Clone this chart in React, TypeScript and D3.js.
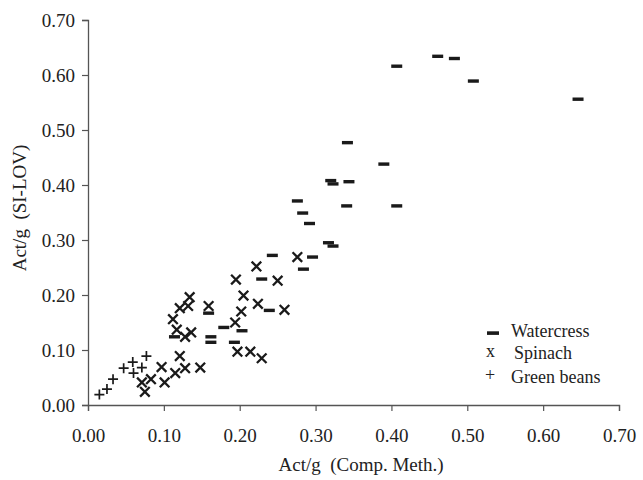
import React, { useEffect, useRef } from 'react';
import * as d3 from 'd3';

const WIDTH = 643;
const HEIGHT = 480;

const xTicks = [0, 0.1, 0.2, 0.3, 0.4, 0.5, 0.6, 0.7];
const yTicks = [0, 0.1, 0.2, 0.3, 0.4, 0.5, 0.6, 0.7];

const xTitle = 'Act/g  (Comp. Meth.)';
const yTitle = 'Act/g  (SI-LOV)';

// [comp. meth., SI-LOV]
const watercress: [number, number][] = [
  [0.461, 0.634], [0.483, 0.630], [0.407, 0.616], [0.508, 0.589], [0.646, 0.556],
  [0.342, 0.477], [0.390, 0.438], [0.320, 0.408], [0.323, 0.402], [0.344, 0.406],
  [0.341, 0.362], [0.407, 0.362], [0.276, 0.371], [0.283, 0.349], [0.292, 0.330],
  [0.317, 0.295], [0.323, 0.289], [0.243, 0.272], [0.296, 0.269], [0.284, 0.247],
  [0.229, 0.229], [0.239, 0.172], [0.159, 0.167], [0.179, 0.141], [0.203, 0.135],
  [0.162, 0.124], [0.162, 0.114], [0.193, 0.114], [0.114, 0.124]
];

const spinach: [number, number][] = [
  [0.276, 0.269], [0.222, 0.252], [0.195, 0.228], [0.250, 0.226], [0.205, 0.199],
  [0.134, 0.196], [0.132, 0.180], [0.121, 0.176], [0.159, 0.180], [0.202, 0.170],
  [0.224, 0.184], [0.259, 0.173], [0.112, 0.156], [0.194, 0.150], [0.128, 0.124],
  [0.136, 0.132], [0.117, 0.137], [0.197, 0.097], [0.214, 0.097], [0.229, 0.085],
  [0.121, 0.089], [0.097, 0.069], [0.148, 0.068], [0.128, 0.067], [0.115, 0.058],
  [0.101, 0.041], [0.071, 0.041], [0.083, 0.047], [0.075, 0.024]
];

const greenBeans: [number, number][] = [
  [0.077, 0.089], [0.059, 0.078], [0.047, 0.067], [0.071, 0.068], [0.060, 0.058],
  [0.033, 0.047], [0.025, 0.029], [0.015, 0.019]
];

const legendLabels = ['Watercress', 'Spinach', 'Green beans'];

const FONT = "'Liberation Serif', 'Times New Roman', serif";

export default function App() {
  const ref = useRef<SVGSVGElement>(null);

  useEffect(() => {
    document.body.style.margin = '0';
    const svg = d3.select(ref.current);
    svg.selectAll('*').remove();

    const margin = { top: 20, right: 24, bottom: 75, left: 88 };
    const w = WIDTH - margin.left - margin.right;
    const h = HEIGHT - margin.top - margin.bottom;

    const x = d3.scaleLinear().domain([0, 0.7]).range([0, w]);
    const y = d3.scaleLinear().domain([0, 0.7]).range([h, 0]);

    const g = svg.append('g')
      .attr('transform', `translate(${margin.left},${margin.top})`);

    const xAxis = g.append('g')
      .attr('transform', `translate(0,${h})`)
      .call(d3.axisBottom(x).tickValues(xTicks).tickFormat(d3.format('.2f')).tickSizeOuter(0).tickSize(6).tickPadding(18));
    const yAxis = g.append('g')
      .call(d3.axisLeft(y).tickValues(yTicks).tickFormat(d3.format('.2f')).tickSizeOuter(0).tickSize(6).tickPadding(7));

    [xAxis, yAxis].forEach((ax) => {
      ax.select('.domain').attr('stroke', '#555').attr('stroke-width', 1.3);
      ax.selectAll('.tick line').attr('stroke', '#555').attr('stroke-width', 1.2);
      ax.selectAll('.tick text')
        .style('font-family', FONT)
        .style('font-size', '19px')
        .attr('fill', '#222');
    });

    // watercress: short thick dashes
    g.append('g').selectAll('rect')
      .data(watercress)
      .enter().append('rect')
        .attr('x', (d) => x(d[0]) - 5.5)
        .attr('y', (d) => y(d[1]) - 1.7)
        .attr('width', 11)
        .attr('height', 3.4)
        .attr('fill', '#1a1a1a');

    // spinach: x marks
    g.append('g').selectAll('path')
      .data(spinach)
      .enter().append('path')
        .attr('d', (d) => {
          const cx = x(d[0]), cy = y(d[1]), s = 4.8;
          return `M${cx - s},${cy - s}L${cx + s},${cy + s}M${cx - s},${cy + s}L${cx + s},${cy - s}`;
        })
        .attr('stroke', '#1a1a1a')
        .attr('stroke-width', 2.3)
        .attr('fill', 'none');

    // green beans: plus marks
    g.append('g').selectAll('path')
      .data(greenBeans)
      .enter().append('path')
        .attr('d', (d) => {
          const cx = x(d[0]), cy = y(d[1]), s = 5;
          return `M${cx - s},${cy}L${cx + s},${cy}M${cx},${cy - s}L${cx},${cy + s}`;
        })
        .attr('stroke', '#1a1a1a')
        .attr('stroke-width', 1.7)
        .attr('fill', 'none');

    // legend
    const legend = svg.append('g').attr('transform', 'translate(486, 333)');
    legend.append('rect')
      .attr('x', 1).attr('y', -1.7).attr('width', 12).attr('height', 3.6)
      .attr('fill', '#1a1a1a');
    legend.append('text')
      .attr('x', 0).attr('y', 20)
      .style('font-family', FONT).style('font-size', '18px')
      .attr('fill', '#222').attr('dominant-baseline', 'middle')
      .text('x');
    legend.append('text')
      .attr('x', -1).attr('y', 44)
      .style('font-family', FONT).style('font-size', '18px')
      .attr('fill', '#222').attr('dominant-baseline', 'middle')
      .text('+');
    legend.selectAll('text.lab')
      .data(legendLabels)
      .enter().append('text')
        .attr('class', 'lab')
        .attr('x', (d, i) => (i === 1 ? 28 : 25))
        .attr('y', (d, i) => i * 22 + (i === 2 ? 2 : 0))
        .attr('dominant-baseline', 'middle')
        .style('font-family', FONT)
        .style('font-size', '18px')
        .attr('fill', '#222')
        .text((d) => d);

    // axis titles
    svg.append('text')
      .attr('x', margin.left + x(0.36))
      .attr('y', 467)
      .attr('text-anchor', 'middle')
      .attr('dominant-baseline', 'middle')
      .style('font-family', FONT)
      .style('font-size', '19px')
      .style('white-space', 'pre')
      .attr('fill', '#222')
      .text(xTitle);

    svg.append('text')
      .attr('transform', 'translate(22, 208) rotate(-90)')
      .attr('text-anchor', 'middle')
      .attr('dominant-baseline', 'middle')
      .style('font-family', FONT)
      .style('font-size', '19px')
      .style('white-space', 'pre')
      .attr('fill', '#222')
      .text(yTitle);
  }, []);

  return (
    <svg ref={ref} width={WIDTH} height={HEIGHT} style={{ display: 'block', background: '#fff' }} />
  );
}
